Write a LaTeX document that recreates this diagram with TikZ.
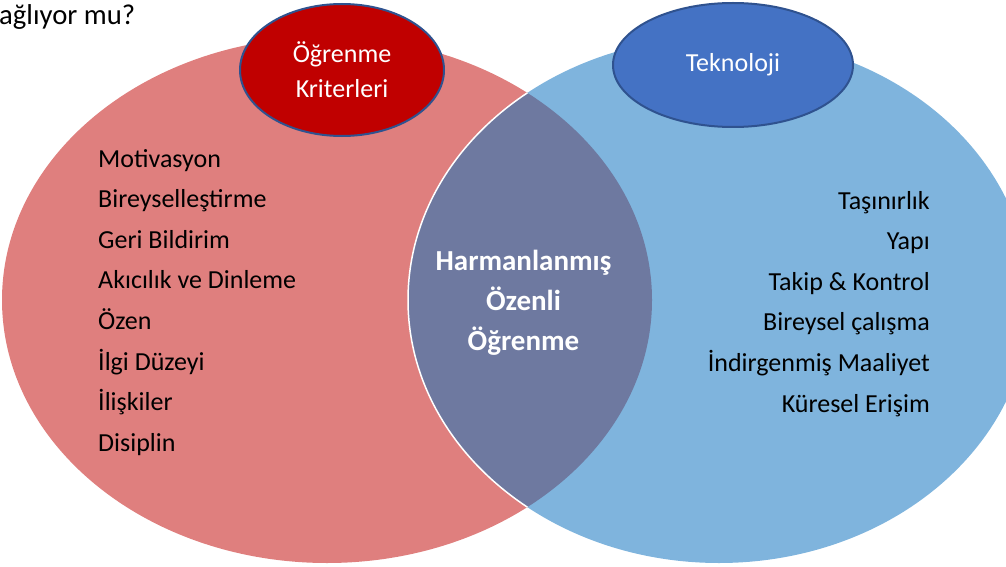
\documentclass[tikz,border=0pt]{standalone}
\usepackage{fontspec}
\setmainfont{Carlito}
\usetikzlibrary{shapes.geometric}
\definecolor{pinkc}{HTML}{DF7F7E}
\definecolor{lblue}{HTML}{7FB4DD}
\definecolor{lens}{HTML}{6E79A0}
\definecolor{redc}{HTML}{C00000}
\definecolor{bluec}{HTML}{4472C4}
\definecolor{outl}{HTML}{2F528F}
\tikzset{
  smallell/.style={ellipse, draw=outl, line width=2pt, inner sep=0pt},
  txt/.style={font=\fontsize{26}{31}\selectfont, text=black, inner sep=0pt},
  wtxt/.style={font=\fontsize{26}{31}\selectfont, text=white, inner sep=0pt},
  btxt/.style={font=\fontsize{29}{34}\selectfont\bfseries, text=white, inner sep=0pt},
}
\begin{document}
\begin{tikzpicture}[x=1pt,y=-1pt]
\useasboundingbox (0,0) rectangle (1006,567);
% big circles
\fill[pinkc] (327,300) ellipse [x radius=325pt, y radius=263pt];
\fill[lblue] (719,300) ellipse [x radius=311pt, y radius=263pt];
\begin{scope}
  \clip (327,300) ellipse [x radius=325pt, y radius=263pt];
  \fill[lens] (719,300) ellipse [x radius=311pt, y radius=263pt];
  \draw[white, line width=1.5pt] (719,300) ellipse [x radius=311pt, y radius=263pt];
\end{scope}
% small ellipses
\node[smallell, fill=redc, minimum width=204pt, minimum height=132pt] (crit) at (342,70) {};
\node[smallell, fill=bluec, minimum width=240pt, minimum height=124pt] (tech) at (733,65) {};
\node[wtxt, anchor=base] (critA) at (342,63) {Öğrenme};
\node[wtxt, anchor=base] (critB) at (342,98) {Kriterleri};
\node[wtxt, anchor=base] (techT) at (733,72) {Teknoloji};
% top-left text
\node[txt, anchor=base west, font=\fontsize{28.7}{33}\selectfont] (top) at (-1,25) {ağlıyor mu?};
% left list
\foreach \t [count=\i from 0] in {Motivasyon,Bireyselleştirme,Geri Bildirim,Akıcılık ve Dinleme,Özen,İlgi Düzeyi,İlişkiler,Disiplin}
  \node[txt, anchor=base west] (l\i) at (98,{167+40.6*\i}) {\t};
% right list
\foreach \t [count=\i from 0] in {Taşınırlık,Yapı,Takip \& Kontrol,Bireysel çalışma,İndirgenmiş Maaliyet,Küresel Erişim}
  \node[txt, anchor=base east] (r\i) at (930,{209+40.6*\i}) {\t};
% center
\node[btxt, anchor=base] (c1) at (523.5,270) {Harmanlanmış};
\node[btxt, anchor=base] (c2) at (523.5,310) {Özenli};
\node[btxt, anchor=base] (c3) at (523.5,350) {Öğrenme};
\end{tikzpicture}
\end{document}
